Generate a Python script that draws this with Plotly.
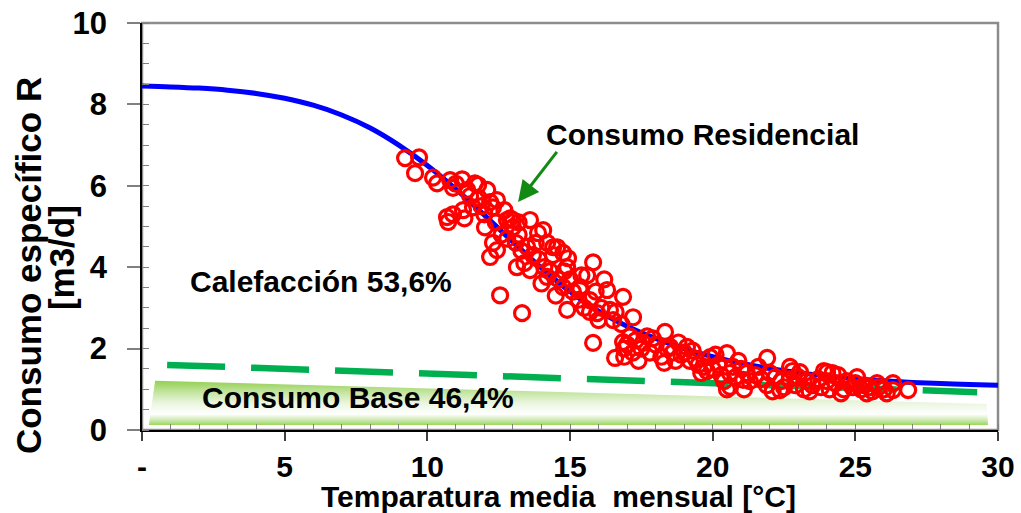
import plotly.graph_objects as go

# ---------------- data ----------------
curve_x = list(range(0, 31))
curve_y = [8.45, 8.43, 8.40, 8.35, 8.27, 8.15, 7.98, 7.74, 7.42, 7.00,
           6.50, 5.92, 5.28, 4.62, 3.98, 3.40, 2.92, 2.55, 2.25, 2.00,
           1.80, 1.64, 1.51, 1.41, 1.33, 1.26, 1.21, 1.17, 1.14, 1.12, 1.10]

temp_x = [9.22, 9.71, 9.57, 10.34, 10.80, 11.22, 11.67, 11.78, 10.69, 10.73,
          11.25, 11.60, 12.20, 12.44, 12.02, 12.20, 12.44, 12.79, 13.00, 13.60,
          14.06, 13.14, 13.60, 14.41, 14.76, 12.55, 13.32, 12.30, 13.00, 13.88,
          14.55, 14.93, 15.81, 14.20, 14.90, 15.70, 16.30, 16.86, 17.21, 15.95,
          16.51, 15.35, 14.76, 15.35, 16.40, 15.81, 16.58, 16.86, 17.56, 18.33,
          18.51, 19.10, 19.91, 20.50, 20.61, 20.71, 21.07, 21.91, 22.71, 23.06,
          24.01, 25.06, 25.76, 26.32, 26.85, 26.32, 22.36,
          10.2, 10.9, 11.0, 11.4, 11.5, 11.9, 12.0, 11.3, 10.9, 12.4,
          12.6, 12.3, 12.8, 13.1, 13.3, 13.2, 13.5, 13.7, 13.4, 13.9,
          14.1, 14.3, 14.0, 14.6, 14.8, 15.0, 15.1, 15.3, 14.5, 15.5,
          15.7, 15.9, 16.1, 16.0, 16.6, 16.2, 15.6, 14.4, 13.8, 12.9,
          12.7, 13.2, 11.8, 12.1, 14.2, 14.9, 15.4, 16.8,
          16.9, 17.0, 17.2, 17.3, 17.5, 17.7, 17.8, 18.0, 18.2, 18.4,
          18.6, 18.7, 18.9, 19.0, 19.2, 19.4, 19.5, 19.7, 19.8, 17.1,
          17.9, 18.8, 19.3, 16.9, 17.4, 18.3, 19.6, 20.0, 20.2, 20.3,
          20.4, 20.6, 20.8, 21.0, 21.2, 21.3, 21.5, 21.7, 21.9, 22.0,
          22.2, 22.4, 22.5, 22.7, 22.9, 23.0, 23.2, 23.3, 23.5, 23.7,
          23.8, 24.0, 24.1, 24.3, 24.4, 24.6, 24.7, 24.9, 25.0, 25.2,
          25.3, 25.5, 25.6, 25.8, 26.0, 26.1, 24.2, 23.9, 22.8, 21.6,
          20.9, 20.1, 20.5, 21.1, 22.1, 23.4, 24.5, 25.4]
cons_y = [6.68, 6.70, 6.31, 6.06, 6.14, 6.16, 6.06, 6.02, 5.23, 5.11,
          5.40, 5.47, 5.60, 5.65, 4.98, 4.25, 4.42, 5.16, 4.98, 5.16,
          4.91, 4.00, 3.93, 4.49, 4.35, 3.31, 2.87, 5.47, 5.16, 4.84,
          4.49, 4.22, 4.12, 3.76, 2.95, 3.19, 3.44, 3.27, 2.77, 2.87,
          2.70, 3.51, 3.51, 3.44, 2.95, 2.14, 1.77, 2.16, 2.14, 2.41,
          2.04, 2.04, 1.79, 1.89, 1.06, 1.55, 1.23, 1.77, 1.55, 1.42,
          1.42, 1.30, 1.15, 1.15, 0.98, 0.98, 0.98,
          6.2, 5.95, 6.05, 5.9, 5.75, 5.5, 5.3, 5.2, 5.3, 5.1,
          4.8, 4.6, 4.7, 4.6, 4.4, 4.8, 4.5, 4.3, 4.1, 4.2,
          4.0, 3.9, 3.6, 3.7, 3.9, 3.7, 3.4, 3.2, 3.3, 3.0,
          2.9, 3.4, 3.0, 2.7, 2.9, 3.7, 3.8, 4.3, 4.6, 5.2,
          5.4, 5.1, 5.7, 5.9, 4.6, 4.0, 3.8, 2.6,
          2.0, 2.1, 1.9, 2.2, 2.0, 2.3, 1.9, 2.1, 1.8, 2.0,
          1.9, 1.7, 1.85, 1.9, 1.7, 1.75, 1.6, 1.55, 1.45, 2.3,
          2.25, 2.15, 1.95, 1.8, 1.7, 1.65, 1.4, 1.5, 1.6, 1.35,
          1.2, 1.4, 1.3, 1.5, 1.4, 1.2, 1.35, 1.25, 1.1, 1.4,
          1.3, 1.2, 1.05, 1.25, 1.1, 1.3, 1.0, 1.2, 1.1, 1.25,
          1.05, 1.2, 1.0, 1.15, 1.35, 1.0, 1.2, 1.05, 1.15, 1.0,
          1.1, 1.05, 0.95, 1.05, 1.0, 0.9, 1.4, 1.45, 1.45, 1.55,
          1.7, 1.85, 1.0, 1.0, 0.95, 0.95, 0.9, 0.9]

base_line_x = [0.88, 29.27]
base_line_y = [1.60, 0.93]

band_x = [0.24, 0.46, 29.6, 29.65, 0.24]
band_y = [0.12, 1.21, 0.64, 0.12, 0.12]

x_tickvals = [0, 5, 10, 15, 20, 25, 30]
x_ticktext = ["-", "5", "10", "15", "20", "25", "30"]
y_tickvals = [0, 2, 4, 6, 8, 10]

FONT = "Liberation Sans, Arial, sans-serif"

fig = go.Figure()

fig.add_trace(go.Scatter(
    x=band_x, y=band_y, mode="lines", fill="toself",
    line=dict(width=0, color="rgba(0,0,0,0)"),
    fillgradient=dict(type="vertical",
                      colorscale=[[0, "#9ad65a"], [0.12, "#cfeab5"], [0.25, "#ffffff"],
                                  [0.5, "#eaf5df"], [0.75, "#c2e49e"], [1, "#92d050"]]),
    hoverinfo="skip", showlegend=False))

fig.add_trace(go.Scatter(
    x=base_line_x, y=base_line_y, mode="lines",
    line=dict(color="#00b050", width=6.5, dash="58px,26px"),
    showlegend=False))

fig.add_trace(go.Scatter(
    x=curve_x, y=curve_y, mode="lines",
    line=dict(color="#0000ff", width=5, shape="spline"),
    showlegend=False))

fig.add_trace(go.Scatter(
    x=temp_x, y=cons_y, mode="markers",
    marker=dict(symbol="circle-open", size=15, color="#ff0000",
                line=dict(width=3.2, color="#ff0000")),
    showlegend=False))

tfont = dict(family=FONT, size=30, color="black", weight="bold")

fig.add_annotation(x=19.65, y=7.27, text="Consumo Residencial", showarrow=False,
                   font=tfont, xanchor="center", yanchor="middle")
fig.add_annotation(x=6.29, y=3.66, text="Calefacción 53,6%", showarrow=False,
                   font=tfont, xanchor="center", yanchor="middle")
fig.add_annotation(x=7.57, y=0.80, text="Consumo Base 46,4%", showarrow=False,
                   font=tfont, xanchor="center", yanchor="middle")
# arrow
fig.add_annotation(x=13.18, y=5.6, ax=14.58, ay=6.87, axref="x", ayref="y",
                   xref="x", yref="y", text="", showarrow=True,
                   arrowhead=2, arrowsize=1.4, arrowwidth=3, arrowcolor="#138a13")

# y-axis title lines
yfont = dict(family=FONT, size=35, color="black", weight="bold")
fig.add_annotation(xref="paper", yref="paper", x=(28 - 142) / 856, y=0.4027,
                   text="Consumo específico R", textangle=-90, showarrow=False,
                   font=yfont, xanchor="center", yanchor="middle")
fig.add_annotation(xref="paper", yref="paper", x=(61 - 142) / 856, y=0.4223,
                   text="[m3/d]", textangle=-90, showarrow=False,
                   font=yfont, xanchor="center", yanchor="middle")
# x-axis title
fig.add_annotation(xref="paper", yref="paper", x=0.487, y=-0.163,
                   text="Temparatura media\u00a0 mensual [°C]", showarrow=False,
                   font=tfont, xanchor="center", yanchor="middle")

# gray frame top/right
fig.add_shape(type="rect", xref="paper", yref="paper", x0=0, x1=1, y0=0, y1=1,
              line=dict(color="#8c8c8c", width=2.5), layer="below")

fig.update_layout(
    width=1021, height=513,
    margin=dict(l=142, r=23, t=23, b=83, autoexpand=False),
    plot_bgcolor="white", paper_bgcolor="white",
    xaxis=dict(range=[0, 30], tickvals=x_tickvals, ticktext=x_ticktext,
               automargin=False,
               showgrid=False, zeroline=False,
               showline=True, linecolor="black", linewidth=1.5,
               ticks="outside", ticklen=9, tickwidth=1.5, tickcolor="#404040",
               minor=dict(ticks="inside", dtick=1, ticklen=6, tickcolor="#808080", tickwidth=1),
               tickfont=dict(family=FONT, size=30, color="black", weight="bold")),
    yaxis=dict(range=[0, 10], tickvals=y_tickvals,
               automargin=False,
               showgrid=False, zeroline=False,
               showline=True, linecolor="black", linewidth=1.5,
               ticks="outside", ticklen=13, tickwidth=1.5, tickcolor="#808080",
               ticklabelstandoff=14,
               minor=dict(ticks="inside", dtick=0.5, ticklen=7, tickcolor="#808080", tickwidth=1),
               tickfont=dict(family=FONT, size=31, color="black", weight="bold")),
)

fig.write_html("out.html",
               config={"displayModeBar": False},
               post_script="document.body.style.margin='0';document.body.style.overflow='hidden';")
